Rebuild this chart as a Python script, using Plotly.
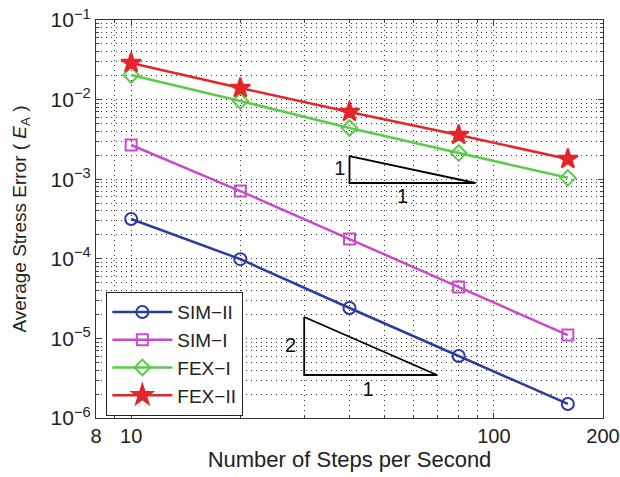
import plotly.graph_objects as go

steps = [10, 20, 40, 80, 160]
sim2 = [3.16e-4, 9.9e-5, 2.41e-5, 6.0e-6, 1.5e-6]
sim1 = [2.69e-3, 7.1e-4, 1.77e-4, 4.42e-5, 1.10e-5]
fex1 = [2.04e-2, 9.6e-3, 4.4e-3, 2.13e-3, 1.04e-3]
fex2 = [2.88e-2, 1.4e-2, 6.98e-3, 3.59e-3, 1.79e-3]

names = ["SIM\u2212II", "SIM\u2212I", "FEX\u2212I", "FEX\u2212II"]
colors = ["#2B3C9E", "#C94BC9", "#5ACB4A", "#E3262B"]
symbols = ["circle-open", "square-open", "diamond-open", "star"]
sizes = [12, 11, 12, 15]

# slope triangles (x, y) and labels
tri1_x = [40, 40, 89, 40]
tri1_y = [1.95e-3, 8.96e-4, 8.96e-4, 1.95e-3]
tri1_lbl_x = [37.6, 56]
tri1_lbl_y = [1.30e-3, 5.8e-4]
tri2_x = [30, 30, 69.7, 30]
tri2_y = [1.86e-5, 3.47e-6, 3.47e-6, 1.86e-5]
tri2_lbl_x = [27.5, 45]
tri2_lbl_y = [7.9e-6, 2.2e-6]

xtick_vals = [8, 10, 100, 200]
xtick_text = ["8", "10", "100", "200"]
ytick_vals = [1e-6, 1e-5, 1e-4, 1e-3, 1e-2, 1e-1]
ytick_text = ["10<sup>\u2212%d</sup>" % k for k in [6, 5, 4, 3, 2, 1]]

fig = go.Figure()
for tx, ty in [(tri1_x, tri1_y), (tri2_x, tri2_y)]:
    fig.add_trace(go.Scatter(x=tx, y=ty, mode="lines", line=dict(color="black", width=1.8),
                             showlegend=False, hoverinfo="skip"))
for lx, ly, lab in [(tri1_lbl_x, tri1_lbl_y, ["1", "1"]), (tri2_lbl_x, tri2_lbl_y, ["2", "1"])]:
    fig.add_trace(go.Scatter(x=lx, y=ly, mode="text", text=lab,
                             textfont=dict(size=20, color="#111", family="Liberation Sans"),
                             showlegend=False, hoverinfo="skip"))

for ys, n, c, s, sz in zip([sim2, sim1, fex1, fex2], names, colors, symbols, sizes):
    fig.add_trace(go.Scatter(x=steps, y=ys, name=n, mode="lines+markers",
                             line=dict(color=c, width=2.5),
                             marker=dict(symbol=s, size=sz, color=c, line=dict(color=c, width=2))))

dotdash = "1px,4px"
grid = dict(showgrid=True, gridcolor="#333", griddash=dotdash, gridwidth=1)
fig.update_xaxes(type="log", range=[0.90309, 2.30103], tickvals=xtick_vals, ticktext=xtick_text,
                 ticks="inside", ticklen=5, mirror="allticks", showline=True, linecolor="#333", linewidth=1.2,
                 tickfont=dict(size=20, color="#222"), automargin=False,
                 title=dict(text="Number of Steps per Second", font=dict(size=22, color="#222"), standoff=5),
                 minor=dict(tickvals=[9, 20, 30, 40, 50, 60, 70, 80, 90], ticks="inside", ticklen=3,
                            showgrid=True, gridcolor="#333", griddash=dotdash, gridwidth=1),
                 zeroline=False, **grid)
fig.update_yaxes(type="log", range=[-6, -1], tickvals=ytick_vals, ticktext=ytick_text,
                 ticks="inside", ticklen=5, mirror="allticks", showline=True, linecolor="#333", linewidth=1.2,
                 tickfont=dict(size=21, color="#222"), automargin=False,
                 title=dict(text="Average Stress Error ( <i>E</i><sub>A</sub> )", font=dict(size=19, color="#222"), standoff=18),
                 minor=dict(dtick="D1", ticks="inside", ticklen=3,
                            showgrid=True, gridcolor="#333", griddash=dotdash, gridwidth=1),
                 zeroline=False, **grid)

fig.update_layout(
    width=620, height=477,
    margin=dict(l=96, r=17, t=20, b=59),
    paper_bgcolor="white", plot_bgcolor="white",
    font=dict(family="Liberation Sans, Arial, sans-serif"),
    legend=dict(x=0.02, y=0.005, xanchor="left", yanchor="bottom",
                bordercolor="#222", borderwidth=1.2, bgcolor="white",
                font=dict(size=19, color="#222"), itemwidth=60, tracegroupgap=0),
)
fig.write_html("out.html")
